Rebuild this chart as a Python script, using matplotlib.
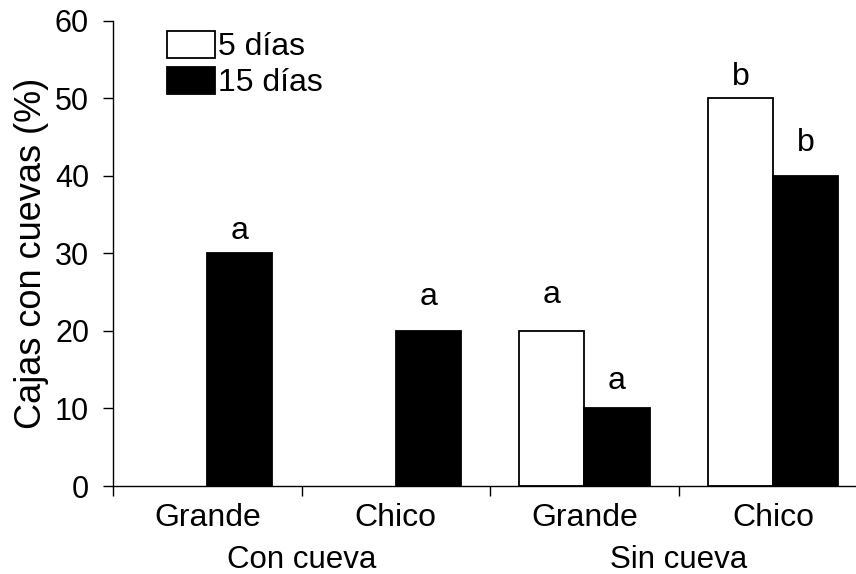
import matplotlib
matplotlib.use("Agg")
import matplotlib.pyplot as plt
from matplotlib.patches import Patch
import numpy as np

plt.rcParams['font.family'] = ['Liberation Sans', 'DejaVu Sans']

# datos
categorias = ['Grande', 'Chico', 'Grande', 'Chico']
grupos = ['Con cueva', 'Sin cueva']
dias5 = [0, 0, 20, 50]
dias15 = [30, 20, 10, 40]
letras5 = ['', '', 'a', 'b']
letras15 = ['a', 'a', 'a', 'b']

fig = plt.figure(figsize=(8.56, 5.74), dpi=100)
ax = fig.add_axes([113/856, 88/574, 743/856, 465.5/574])

x = np.arange(len(categorias))
ancho = 0.345

ax.bar(x - ancho/2, dias5, ancho, color='white',
       edgecolor=['black' if v > 0 else 'none' for v in dias5], linewidth=1.3)
ax.bar(x + ancho/2, dias15, ancho, color='black', edgecolor='black', linewidth=1.3)

# letras de significancia (desplazamiento en px sobre la barra)
off5 = [0, 0, 21, 6]
off15 = [7, 19, 12, 18]
for i in range(len(x)):
    if letras5[i]:
        ax.annotate(letras5[i], (x[i] - ancho/2, dias5[i]), xytext=(0, off5[i]*0.72),
                    textcoords='offset points', ha='center', va='bottom', fontsize=23)
    if letras15[i]:
        ax.annotate(letras15[i], (x[i] + ancho/2, dias15[i]), xytext=(0, off15[i]*0.72),
                    textcoords='offset points', ha='center', va='bottom', fontsize=23)

ax.set_xlim(-0.5, 3.44)
ax.set_ylim(0, 60)
ax.set_yticks(np.arange(0, 61, 10))
ax.tick_params(axis='y', labelsize=22, length=7.2, width=1, direction='out', pad=10)

# ticks separadores y etiquetas de categoria
ax.set_xticks([-0.5, 0.5, 1.5, 2.5])
ax.set_xticklabels([])
ax.set_xticks(x, minor=True)
ax.set_xticklabels(categorias, minor=True)
ax.tick_params(axis='x', which='major', length=7.2, width=1, direction='out')
ax.tick_params(axis='x', which='minor', length=0, labelsize=23, pad=12)

for j, g in enumerate(grupos):
    ax.text(0.5 + 2*j, -0.176, g, transform=ax.get_xaxis_transform(),
            ha='center', va='baseline', fontsize=22.5)

for s in ['top', 'right']:
    ax.spines[s].set_visible(False)
for s in ['left', 'bottom']:
    ax.spines[s].set_linewidth(1)

ax.set_ylabel('Cajas con cuevas (%)', fontsize=26)
ax.yaxis.set_label_coords(-0.086, 0.5)

handles = [Patch(facecolor='white', edgecolor='black', linewidth=1.3, label='5 días'),
           Patch(facecolor='black', edgecolor='black', linewidth=1.3, label='15 días')]
ax.legend(handles=handles, loc='upper left', bbox_to_anchor=(167/856, 1 - 31/574),
          bbox_transform=fig.transFigure, frameon=False, fontsize=23,
          handlelength=1.5, handleheight=0.9, handletextpad=0.1,
          labelspacing=0.15, borderpad=0, borderaxespad=0)

fig.savefig('out.png', dpi=100)
